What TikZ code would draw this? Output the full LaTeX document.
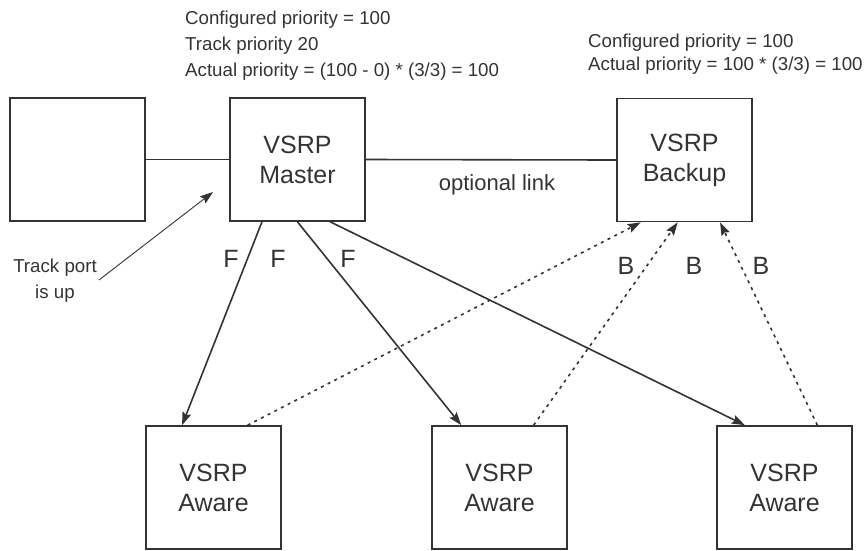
\documentclass[tikz,border=0pt]{standalone}
\usepackage{fontspec}
\setmainfont{Liberation Sans}
\usetikzlibrary{arrows.meta, positioning, calc}
\definecolor{cInk}{RGB}{51,51,51}
\tikzset{
	router/.style ={rectangle, draw=cInk, line width=1.7pt, minimum width=135pt, minimum height=123pt, align=center, text=cInk, font=\fontsize{25}{30}\selectfont},
	note/.style   ={align=left, inner sep=0pt, text=cInk, font=\fontsize{18.7}{26}\selectfont},
	lbl/.style    ={inner sep=0pt, text=cInk, font=\fontsize{25}{30}\selectfont},
	wire/.style   ={line width=1.6pt, draw=cInk},
	fwd/.style    ={-{Stealth[length=13pt, width=9pt, inset=2pt]}, line width=1.6pt, draw=cInk},
	bck/.style    ={fwd, dash pattern=on 3pt off 4.5pt},
}
\begin{document}
\begin{tikzpicture}[x=1pt, y=-1pt]
	\useasboundingbox (0,0) rectangle (867,550);
	% switches
	\node[router] (host)   at (77.5,159.5) {};
	\node[router] (master) at (297.5,159.5) {VSRP\\Master};
	\node[router] (backup) at (684.5,160) {VSRP\\Backup};
	\node[router] (awareA) at (213.5,487.5) {VSRP\\Aware};
	\node[router] (awareB) at (499.5,487.5) {VSRP\\Aware};
	\node[router] (awareC) at (784.5,487.5) {VSRP\\Aware};
	% priority notes
	\node[note, anchor=north west] (mnote) at (185,11) {Configured priority = 100\\Track priority 20\\Actual priority = (100 - 0) * (3/3) = 100};
	\node[note, anchor=north west, font=\fontsize{18.7}{23}\selectfont] (bnote) at (588,34) {Configured priority = 100\\Actual priority = 100 * (3/3) = 100};
	\node[note, align=center] (trk) at (55,281) {Track port\\is up};
	\node[note, font=\fontsize{22}{26}\selectfont] (opt) at (497,185) {optional link};
	% path labels
	\node[lbl] (fA) at (231,259) {F};
	\node[lbl] (fB) at (278,259) {F};
	\node[lbl] (fC) at (348,259) {F};
	\node[lbl] (bA) at (626,266) {B};
	\node[lbl] (bB) at (694,266) {B};
	\node[lbl] (bC) at (761,266) {B};
	% links
	\draw[wire] (host) -- (master);
	\draw[wire] (master.east) -- (backup.west);
	\draw[fwd] ($(master.south west)!0.24!(master.south east)$) -- ($(awareA.north west)!0.27!(awareA.north east)$);
	\draw[fwd] ($(master.south west)!0.5!(master.south east)$) -- ($(awareB.north west)!0.22!(awareB.north east)$);
	\draw[fwd] ($(master.south west)!0.74!(master.south east)$) -- ($(awareC.north west)!0.21!(awareC.north east)$);
	\draw[bck] ($(awareA.north west)!0.75!(awareA.north east)$) -- ($(backup.south west)!0.18!(backup.south east)$);
	\draw[bck] ($(awareB.north west)!0.75!(awareB.north east)$) -- ($(backup.south west)!0.45!(backup.south east)$);
	\draw[bck] ($(awareC.north west)!0.74!(awareC.north east)$) -- ($(backup.south west)!0.76!(backup.south east)$);
	\coordinate (trktail) at (99,280);
	\coordinate (trkhead) at (213,192);
	\draw[fwd, line width=0.9pt] (trktail) -- (trkhead);
\end{tikzpicture}
\end{document}
